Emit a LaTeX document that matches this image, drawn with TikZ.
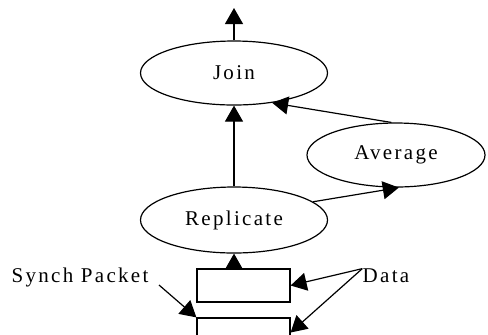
\documentclass[tikz,border=0pt]{standalone}
\usepackage{fontspec}
\setmainfont{Liberation Serif}[LetterSpace=11]
\usetikzlibrary{shapes.geometric,arrows.meta}

\begin{document}
\begin{tikzpicture}
      [ x = 0.5pt, y = -0.5pt
      , task/.style =
        { draw, ellipse, line width = 0.6pt, inner sep = 0pt
        , minimum width = 93.5pt, minimum height = 32pt
        , font = \fontsize{10.5}{12}\selectfont }
      , packet/.style =
        { draw, rectangle, line width = 0.6pt
        , minimum width = 46.5pt, minimum height = 16.5pt }
      , note/.style =
        { inner sep = 0pt, font = \fontsize{10.5}{12}\selectfont }
      , flow/.style =
        { -{Triangle[length=8pt, width=9pt]}, line width = 0.6pt }
      ]
      \useasboundingbox (0,0) rectangle (488,334);
      \node [task] (join) at (234, 73) {Join};
      \node [task, minimum width = 89pt] (average) at (396, 155) {Average};
      \node [task, minimum height = 33pt] (replicate) at (234, 220) {Replicate};
      \node [packet] (box1) at (243.5, 285.5) {};
      \node [packet] (box2) at (243.5, 334.5) {};
      \node [note] (synch) at (80, 277) {Synch Packet};
      \node [note] (data) at (386, 276) {Data};
      \coordinate (out) at (234, 8);
      \coordinate (sfrom) at (159, 285);
      \draw [flow] (join.north) to (out);
      \draw [flow] (replicate.north) to (join.south);
      \draw [flow] (average.98) to (join.-38);
      \draw [flow] (replicate.13) to (average.-85);
      \draw [flow] (replicate.south |- box1.north) to (replicate.south);
      \draw [flow] (data.north west) to (box1.east);
      \draw [flow] (data.north west) to ([yshift=1pt]box2.east);
      \draw [flow] (sfrom) to (box2.north west);
    \end{tikzpicture}
\end{document}
